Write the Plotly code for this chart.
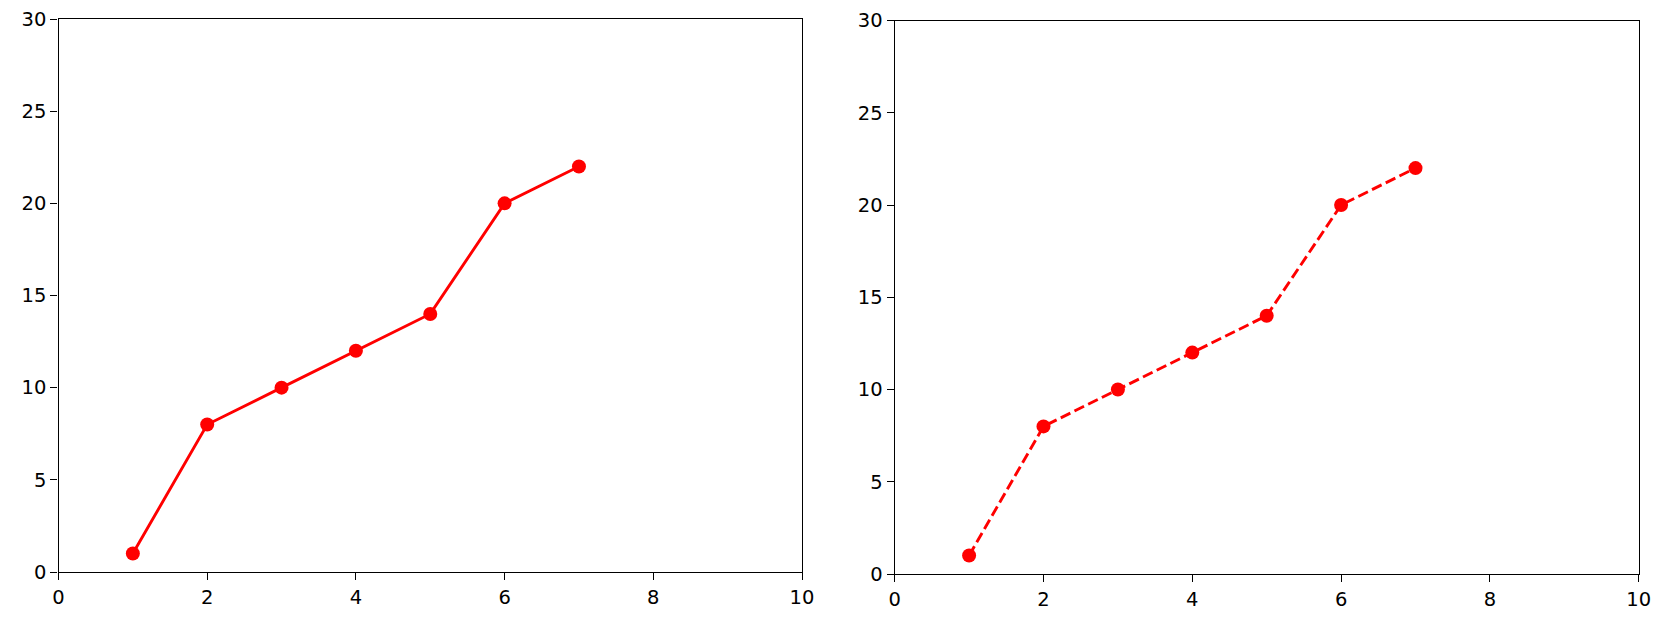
import plotly.graph_objects as go

x_vals = [1, 2, 3, 4, 5, 6, 7]
y_vals = [1, 8, 10, 12, 14, 20, 22]
x_ticks = [0, 2, 4, 6, 8, 10]
y_ticks = [0, 5, 10, 15, 20, 25, 30]

W, H = 1665, 629
fig = go.Figure()

fig.add_trace(go.Scatter(x=x_vals, y=y_vals, mode="lines+markers",
                         line=dict(color="red", width=2.9),
                         marker=dict(color="red", size=14),
                         xaxis="x", yaxis="y", showlegend=False))
fig.add_trace(go.Scatter(x=x_vals, y=y_vals, mode="lines+markers",
                         line=dict(color="red", width=2.9, dash="10.7px,4.6px"),
                         marker=dict(color="red", size=14),
                         xaxis="x2", yaxis="y2", showlegend=False))

def ax(domain, anchor, rng, ticks):
    return dict(domain=domain, anchor=anchor, range=rng, tickvals=ticks,
                ticktext=[str(t) for t in ticks], automargin=False,
                showgrid=False, zeroline=False, showline=True, linecolor="black",
                linewidth=1.4, mirror=True, ticks="outside", ticklen=7,
                tickwidth=1.4, tickcolor="black",
                tickfont=dict(family="DejaVu Sans", size=19.5, color="black"))

fig.update_layout(
    template="none",
    width=W, height=H, margin=dict(l=0, r=0, t=0, b=0, pad=0),
    paper_bgcolor="white", plot_bgcolor="white",
    xaxis=ax([58.5 / W, 802 / W], "y", [0, 10], x_ticks),
    yaxis=ax([1 - 572 / H, 1 - 19 / H], "x", [0, 30], y_ticks),
    xaxis2=ax([894.7 / W, 1638.7 / W], "y2", [0, 10], x_ticks),
    yaxis2=ax([1 - 574 / H, 1 - 20.5 / H], "x2", [0, 30], y_ticks),
)

fig.write_html("out.html", config={"displayModeBar": False},
               post_script="document.body.style.margin='0';document.body.style.overflow='hidden';")
